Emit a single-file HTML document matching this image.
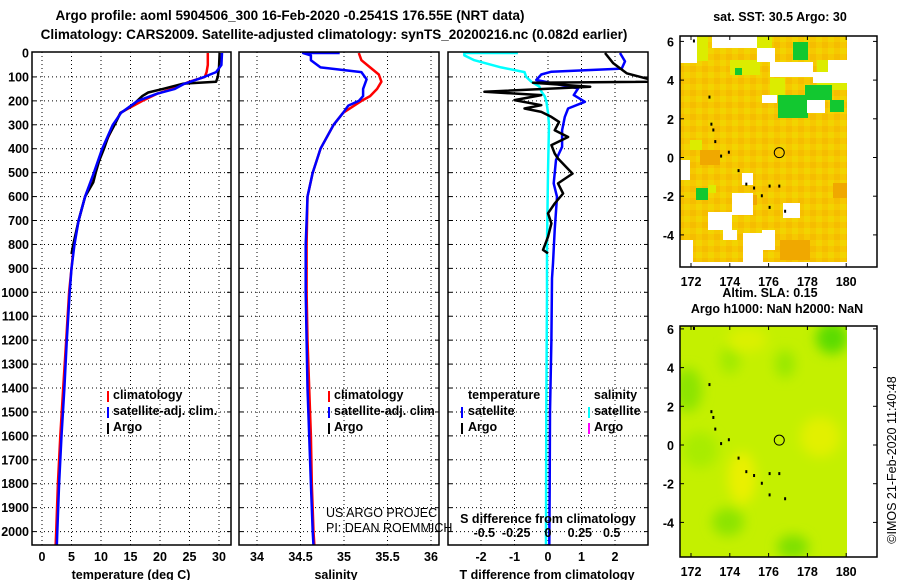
<!DOCTYPE html>
<html><head><meta charset="utf-8">
<style>
html,body{margin:0;padding:0;background:#fff;}
svg{display:block;font-family:"Liberation Sans",Arial,sans-serif;}
.b{font-weight:bold;font-size:12.5px;fill:#000;}
.t{font-weight:bold;font-size:13.5px;fill:#000;}
</style></head>
<body>
<svg id="fig" width="900" height="580" viewBox="0 0 900 580" xmlns="http://www.w3.org/2000/svg">
<defs>
<pattern id="sstTex" width="12" height="12" patternUnits="userSpaceOnUse">
<rect width="12" height="12" fill="#f6c800"/>
<rect x="0" y="0" width="6" height="6" fill="#f2d400"/>
<rect x="6" y="6" width="6" height="6" fill="#f5bd00"/>
</pattern>
<filter id="blur" x="-50%" y="-50%" width="200%" height="200%"><feGaussianBlur stdDeviation="6"/></filter>
<clipPath id="c1"><rect x="32" y="52" width="199" height="493"/></clipPath>
<clipPath id="c2"><rect x="239" y="52" width="200" height="493"/></clipPath>
<clipPath id="c3"><rect x="448" y="52" width="200" height="493"/></clipPath>
<clipPath id="cm1"><rect x="680" y="36" width="167" height="231"/></clipPath>
<clipPath id="cm2"><rect x="680" y="326" width="167" height="231"/></clipPath>
</defs>
<text class="t" x="290" y="20" text-anchor="middle">Argo profile: aoml 5904506_300 16-Feb-2020 -0.2541S 176.55E (NRT data)</text>
<text class="t" x="334" y="39" text-anchor="middle">Climatology: CARS2009. Satellite-adjusted climatology: synTS_20200216.nc (0.082d earlier)</text>
<g id="grid"></g>
<g id="marks"></g>
<g id="frames"></g>
<g id="maps"></g>
<g id="labels"></g>
</svg>
<script>
// ---------- data ----------
const depthTicks = [0,100,200,300,400,500,600,700,800,900,1000,1100,1200,1300,1400,1500,1600,1700,1800,1900,2000];
const tempTicks = [0,5,10,15,20,25,30];
const salTicks = [34,34.5,35,35.5,36];
const salTickLabels = ["34","34.5","35","35.5","36"];
const tdiffTicks = [-2,-1,0,1,2];
const sdiffTickLabels = ["-0.5","-0.25","0","0.25","0.5"];
const sdiffTicks = [-0.5,-0.25,0,0.25,0.5];

const tClimDepth = [0,50,80,100,120,150,170,200,250,300,400,500,600,700,800,900,1000,1200,1400,1600,1800,2000,2060];
const tClimVal   = [28.1,28.1,27.9,27.6,25,22,19.5,17,13.3,12.2,10.3,8.9,7.3,6.2,5.4,5.0,4.6,4.1,3.6,3.1,2.7,2.4,2.3];
const tSatDepth = [0,50,80,100,130,150,170,200,250,300,400,500,600,700,800,900,1000,1200,1400,1600,1800,2000,2060];
const tSatVal   = [30.5,30.4,29.5,27.5,24,22.5,19.5,16.2,13.4,12.0,10.2,8.8,7.3,6.2,5.5,5.0,4.7,4.2,3.8,3.3,2.9,2.6,2.5];
const tArgoDepth = [0,60,100,120,128,150,165,180,210,240,250,300,350,400,450,500,540,600,700,800,840];
const tArgoVal   = [30.1,30,29.8,29.5,24,20.5,18,17,15.7,14,13.3,12.3,11.2,10.5,9.7,9.1,8.7,7.3,6.2,5.3,5.0];

const sClimDepth = [0,30,60,90,120,150,180,200,250,300,400,500,600,800,1000,1200,1400,1600,1800,2000,2060];
const sClimVal   = [35.17,35.2,35.3,35.4,35.43,35.38,35.3,35.2,34.99,34.88,34.73,34.64,34.58,34.57,34.57,34.58,34.6,34.62,34.63,34.65,34.66];
const sSatDepth = [0,0,10,30,60,80,110,150,180,200,220,250,300,400,500,600,800,1000,1200,1400,1600,1800,2000,2060];
const sSatVal   = [34.95,34.53,34.62,34.62,34.73,35.2,35.26,35.22,35.22,35.17,35.05,34.99,34.88,34.73,34.64,34.58,34.56,34.56,34.57,34.58,34.6,34.62,34.64,34.65];

const dSalSatDepth = [0,0,10,30,60,80,100,120,140,160,180,200,250,300,500,800,1000,1500,2000,2060];
const dSalSatVal   = [-0.9,-2.5,-2.5,-2.2,-1.4,-0.7,-0.65,-0.5,-0.26,-0.2,-0.1,-0.05,0.0,0.03,0.0,-0.03,-0.03,-0.05,-0.06,-0.06];
const dTSatDepth = [0,35,65,78,90,113,148,176,204,232,267,323,392,447,545,601,740,879,942,1200,1500,1800,2060];
const dTSatVal   = [2.15,2.3,2.2,0.1,-0.2,-0.35,0.9,0.77,1.1,0.6,0.5,0.42,0.42,0.24,0.17,0.27,0.2,0.15,0.12,0.1,0.06,0.05,0.04];
const dTArgoDepth = [0,43,85,113,120,124,141,162,176,197,218,232,246,267,288,323,351,385,420,441,504,545,587,629,670,712,768,823,837];
const dTArgoVal   = [1.7,1.95,2.35,3.1,3.1,-0.45,1.26,-1.9,-0.2,-1.0,-0.2,-0.7,-0.2,0.1,0.33,0.2,0.6,0.1,0.2,0.3,0.73,0.3,0.45,0.2,0.0,0.1,0.0,-0.15,0.0];

// ---------- scales ----------
const NS = "http://www.w3.org/2000/svg";
const yD = d => 53 + d*0.2393;
const xT = v => 42 + v*5.9;
const xS = v => 257 + (v-34)*87;
const xTd = v => 548 + v*33.5;
const xSd = v => 548 + v*4*33.5*0.95;
function mk(tag, parent, attrs){ const e=document.createElementNS(NS,tag); for(const k in attrs) e.setAttribute(k,attrs[k]); document.getElementById(parent).appendChild(e); return e; }
function txt(parent, s, x, y, anchor, cls){ const e=mk('text',parent,{x:x,y:y,'text-anchor':anchor||'start',class:cls||'b'}); e.textContent=s; return e; }

// ---------- grids, frames ----------
const panels = [{x0:32,x1:231,name:'temperature'},{x0:239,x1:439,name:'salinity'},{x0:448,x1:648,name:'t-diff'}];
panels.forEach(p=>{
  depthTicks.forEach(d=>{
    if(d===0) return;
    const l=mk('line','grid',{x1:p.x0,x2:p.x1,y1:yD(d),y2:yD(d),stroke:'#000','stroke-width':1,'stroke-dasharray':'1,3'});
    
    
    const t1=mk('line','frames',{x1:p.x0,x2:p.x0+4,y1:yD(d),y2:yD(d),stroke:'#000'});
    
    
    const t2=mk('line','frames',{x1:p.x1-4,x2:p.x1,y1:yD(d),y2:yD(d),stroke:'#000'});
    
    
  });
});
function vgrid(ticks, sx, name){
  ticks.forEach(v=>{
    const l=mk('line','grid',{x1:sx(v),x2:sx(v),y1:52,y2:545,stroke:'#000','stroke-width':1,'stroke-dasharray':'1,3'});
    
    
  });
}
vgrid(tempTicks, xT, 'temperature');
vgrid(salTicks, xS, 'salinity');
vgrid(tdiffTicks, xTd, 't-diff');
panels.forEach(p=>{
  const r=mk('rect','frames',{x:p.x0,y:52,width:p.x1-p.x0,height:493,fill:'none',stroke:'#000','stroke-width':1.5});
  
  
});

// ---------- series ----------
function line(dep, val, sx, color, clip, name, w){
  const pts = dep.map((d,i)=>sx(val[i]).toFixed(1)+','+yD(d).toFixed(1)).join(' ');
  const p=mk('polyline','marks',{points:pts,fill:'none',stroke:color,'stroke-width':w||2.5,'clip-path':'url(#'+clip+')','stroke-linejoin':'round'});
  
  
}
line(tClimDepth,tClimVal,xT,'#ff0000','c1','temp-climatology-line');
line(tArgoDepth,tArgoVal,xT,'#000000','c1','temp-argo-line');
line(tSatDepth,tSatVal,xT,'#0000ff','c1','temp-satellite-line');
line(sClimDepth,sClimVal,xS,'#ff0000','c2','sal-climatology-line');
line(sSatDepth,sSatVal,xS,'#0000ff','c2','sal-satellite-line');
line(dSalSatDepth,dSalSatVal,xTd,'#00ffff','c3','sdiff-satellite-line');
line(dTSatDepth,dTSatVal,xTd,'#0000ff','c3','tdiff-satellite-line');
line(dTArgoDepth,dTArgoVal,xTd,'#000000','c3','tdiff-argo-line');

// ---------- axis labels ----------
depthTicks.forEach(d=>{ const t=txt('labels',String(d),29,yD(d)+4.5,'end');
    });
tempTicks.forEach(v=>{ const t=txt('labels',String(v),xT(v),561,'middle');
    });
salTicks.forEach((v,i)=>{ const t=txt('labels',salTickLabels[i],xS(v),561,'middle');
    });
tdiffTicks.forEach(v=>{ const t=txt('labels',String(v),xTd(v),561,'middle');
    });
sdiffTicks.forEach((v,i)=>{ const t=txt('labels',sdiffTickLabels[i],xSd(v),537,'middle');
    });
</script>
<svg x="0" y="0" width="900" height="580" style="position:absolute;left:0;top:0"></svg>
<script>
const L = document.getElementById('labels');
function addT(s,x,y,anchor,name,extra){ const e=document.createElementNS(NS,'text'); e.setAttribute('x',x); e.setAttribute('y',y); e.setAttribute('text-anchor',anchor); e.setAttribute('class','b'); if(extra) for(const k in extra) e.setAttribute(k,extra[k]); e.textContent=s;
  
  
  L.appendChild(e); return e; }
function tick(x,y,color,name){ const r=document.createElementNS(NS,'rect'); r.setAttribute('x',x); r.setAttribute('y',y-9); r.setAttribute('width',2); r.setAttribute('height',11); r.setAttribute('fill',color);
  
  
  L.appendChild(r); }
addT('temperature (deg C)',131,579,'middle','x-axis-title-temperature');
addT('salinity',336,579,'middle','x-axis-title-salinity');
addT('T difference from climatology',547,579,'middle','x-axis-title-tdiff');
addT('S difference from climatology',548,523,'middle','sdiff-axis-title');
// legends
tick(107,400,'#ff0000','legend-mark-climatology'); addT('climatology',113,399,'start','legend-climatology');
tick(107,416,'#0000ff','legend-mark-satellite'); addT('satellite-adj. clim.',113,415,'start','legend-satellite');
tick(107,432,'#000000','legend-mark-argo'); addT('Argo',113,431,'start','legend-argo');
tick(328,400,'#ff0000','sal-legend-mark-climatology'); addT('climatology',334,399,'start','sal-legend-climatology');
tick(328,416,'#0000ff','sal-legend-mark-satellite'); addT('satellite-adj. clim',334,415,'start','sal-legend-satellite');
tick(328,432,'#000000','sal-legend-mark-argo'); addT('Argo',334,431,'start','sal-legend-argo');
addT('temperature',468,399,'start','diff-legend-temperature-header');
addT('salinity',594,399,'start','diff-legend-salinity-header');
tick(461,416,'#0000ff','diff-legend-mark-tsat'); addT('satellite',468,415,'start','diff-legend-tsat');
tick(461,432,'#000000','diff-legend-mark-targo'); addT('Argo',468,431,'start','diff-legend-targo');
tick(588,416,'#00ffff','diff-legend-mark-ssat'); addT('satellite',594,415,'start','diff-legend-ssat');
tick(588,432,'#ff00ff','diff-legend-mark-sargo'); addT('Argo',594,431,'start','diff-legend-sargo');
addT('US ARGO PROJEC',326,517,'start','credit-project',{style:'font-weight:normal;font-size:12.5px'});
addT('PI: DEAN ROEMMICH',326,532,'start','credit-pi',{style:'font-weight:normal;font-size:12.5px'});

// ---------- maps ----------
const M = document.getElementById('maps');
const lonX = lon => 691 + (lon-172)*19.4;
function el(tag,attrs,name,parent){ const e=document.createElementNS(NS,tag); for(const k in attrs) e.setAttribute(k,attrs[k]);
  
  
  (parent||M).appendChild(e); return e; }
const coast = [[172.9,3.2],[173.0,1.8],[173.1,1.5],[173.2,0.9],[173.5,0.15],[173.9,0.35],[174.4,-0.6],[174.8,-1.3],[175.2,-1.5],[175.6,-1.9],[176.0,-1.4],[176.5,-1.4],[176.0,-2.5],[176.8,-2.7],[172.1,6.1]];
const mapLat = [6,4,2,0,-2,-4];
const mapLon = [172,174,176,178,180];
function drawMap(top, lat0, kind){
  const latY = lat => lat0 - lat*19.35;
  const g = el('g',{'clip-path':'url(#'+(kind==='sst'?'cm1':'cm2')+')'}, kind+'-map-field');
  if(kind==='sst'){
    el('rect',{x:680,y:top,width:167,height:231,fill:'url(#sstTex)'},'sst-base',g);
    const lime=[[690,36,18,25],[757,36,15,14],[817,60,30,30],[770,78,15,18],[730,60,30,15],[690,140,12,10],[708,185,8,8]];
    lime.forEach(r=>el('rect',{x:r[0],y:r[1],width:r[2],height:r[3],fill:'#dcec00'},'sst-lime-patch',g));
    const orng=[[780,240,30,20],[833,183,14,15],[700,150,20,15],[745,195,12,10]];
    orng.forEach(r=>el('rect',{x:r[0],y:r[1],width:r[2],height:r[3],fill:'#f0a800'},'sst-warm-patch',g));
    const green=[[778,95,30,23],[805,85,27,15],[793,42,15,18],[696,188,12,12],[735,68,7,7],[830,100,14,12]];
    green.forEach(r=>el('rect',{x:r[0],y:r[1],width:r[2],height:r[3],fill:'#12c830'},'sst-green-patch',g));
    const holes=[[712,36,45,12],[680,36,17,27],[757,48,18,14],[770,62,43,15],[813,72,34,11],[828,60,19,12],[762,95,15,8],[807,100,18,13],[680,160,10,20],[742,173,11,12],[732,193,21,22],[783,203,17,15],[708,212,24,18],[680,240,13,27],[743,233,20,30],[723,230,14,10],[762,230,13,20],[693,262,154,5]];
    holes.forEach(r=>el('rect',{x:r[0],y:r[1],width:r[2],height:r[3],fill:'#ffffff'},'sst-missing-data',g));
  } else {
    el('rect',{x:680,y:top,width:167,height:231,fill:'#c4f000'},'sla-base',g);
    const gr=[[688,390,14,22,'#8ce400'],[728,522,16,14,'#8ce400'],[793,547,16,12,'#7ee000'],[832,338,16,16,'#5cdc00'],[785,364,10,14,'#98e800'],[700,450,18,18,'#a8ec00'],[730,360,10,14,'#a0ea00']];
    gr.forEach(r=>el('ellipse',{cx:r[0],cy:r[1],rx:r[2],ry:r[3],fill:r[4],filter:'url(#blur)'},'sla-low-patch',g));
    const ye=[[742,478,14,26,'#eaf000'],[820,437,20,20,'#e2f000'],[747,340,20,12,'#dcf000']];
    ye.forEach(r=>el('ellipse',{cx:r[0],cy:r[1],rx:r[2],ry:r[3],fill:r[4],filter:'url(#blur)'},'sla-high-patch',g));
  }
  coast.forEach(c=>el('rect',{x:lonX(c[0]),y:latY(c[1]),width:2,height:3,fill:'#000'},kind+'-coast-speck'));
  el('circle',{cx:lonX(176.55),cy:latY(0.25),r:5,fill:'none',stroke:'#000','stroke-width':1},kind+'-profile-location');
  el('rect',{x:680,y:top,width:197,height:231,fill:'none',stroke:'#000','stroke-width':1.5},kind+'-map-frame');
  mapLat.forEach(v=>{
    el('line',{x1:680,x2:684,y1:latY(v),y2:latY(v),stroke:'#000'},kind+'-lat-tick');
    el('line',{x1:873,x2:877,y1:latY(v),y2:latY(v),stroke:'#000'},kind+'-lat-tick');
    const t=el('text',{x:674,y:latY(v)+5,'text-anchor':'end',class:'b'},kind+'-lat-label'); t.textContent=String(v);
  });
  mapLon.forEach(v=>{
    el('line',{x1:lonX(v),x2:lonX(v),y1:top,y2:top+4,stroke:'#000'},kind+'-lon-tick');
    el('line',{x1:lonX(v),x2:lonX(v),y1:top+227,y2:top+231,stroke:'#000'},kind+'-lon-tick');
    const t=el('text',{x:lonX(v),y:top+250,'text-anchor':'middle',class:'b'},kind+'-lon-label'); t.textContent=String(v);
  });
}
drawMap(36,157.5,'sst');
drawMap(326,445,'sla');
let tt;
tt=el('text',{x:780,y:21,'text-anchor':'middle',class:'b'},'sst-map-title'); tt.textContent='sat. SST: 30.5 Argo: 30';
tt=el('text',{x:770,y:297,'text-anchor':'middle',class:'b'},'sla-map-title'); tt.textContent='Altim. SLA: 0.15';
tt=el('text',{x:777,y:313,'text-anchor':'middle',class:'b'},'sla-map-subtitle'); tt.textContent='Argo h1000: NaN h2000: NaN';
tt=el('text',{x:0,y:0,'text-anchor':'middle',transform:'translate(896,460) rotate(-90)',style:'font-size:12.5px'},'timestamp-credit'); tt.textContent='©IMOS 21-Feb-2020 11:40:48';
</script>
</body></html>
